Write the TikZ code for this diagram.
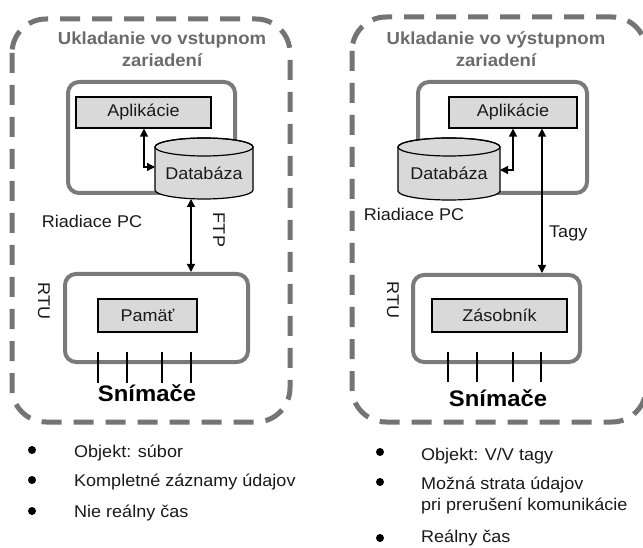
\documentclass[tikz,border=0pt]{standalone}
\usepackage{fontspec}
\setmainfont{Liberation Sans}[FakeStretch=1.06]
\usetikzlibrary{arrows.meta}
\definecolor{dashgray}{HTML}{747474}
\definecolor{boxgray}{HTML}{7A7A7A}
\definecolor{titlegray}{HTML}{6B6B6B}
\definecolor{fillgray}{HTML}{D9D9D9}
\definecolor{txt}{HTML}{1A1A1A}
\newcommand\dbcyl[5]{%
  \pgfmathsetmacro\cx{(#1+#2)/2}%
  \pgfmathsetmacro\rx{(#2-#1)/2}%
  \path[cylbody] (#1,#3+9) -- (#1,#4-9) arc[start angle=180,end angle=360,x radius=\rx pt,y radius=9pt]
     -- (#2,#3+9) arc[start angle=0,end angle=180,x radius=\rx pt,y radius=9pt] -- cycle;
  \draw[cylline] (\cx,#3+9) ellipse[x radius=\rx pt,y radius=9pt];
  \pgfmathsetmacro\cy{(#3+9+#4)/2}%
  \pgfmathsetmacro\hh{#4-#3-9}%
  \node[dbtext, minimum width=2*\rx pt, minimum height=\hh pt] (#5) at (\cx,\cy) {Databáza};
}
\begin{document}
\begin{tikzpicture}[x=1pt,y=-1pt,
  outerbox/.style={draw=dashgray, line width=5pt, dash pattern=on 20pt off 12pt, rounded corners=34pt},
  panel/.style={draw=boxgray, line width=4pt, rounded corners=11pt, fill=white, inner sep=0pt},
  membox/.style={draw=black, line width=1.2pt, fill=fillgray, inner sep=0pt, text=txt, font=\fontsize{17}{20}\selectfont},
  cylbody/.style={draw=black, line width=1.2pt, fill=fillgray},
  cylline/.style={draw=black, line width=1.2pt},
  dbtext/.style={inner sep=0pt, outer sep=0pt, text=txt, font=\fontsize{17}{20}\selectfont},
  title/.style={text=titlegray, font=\fontsize{17.5}{21}\selectfont\bfseries, inner sep=0pt},
  lbl/.style={text=txt, font=\fontsize{17}{20}\selectfont, inner sep=0pt},
  sens/.style={text=black, font=\fontsize{22.5}{26}\selectfont\bfseries, inner sep=0pt},
  conn/.style={draw=black, line width=1.3pt, {Triangle[length=8pt,width=8pt]}-{Triangle[length=8pt,width=8pt]}},
  wire/.style={draw=black, line width=1.1pt},
  bul/.style={circle, fill=black, inner sep=0pt, minimum size=8pt},
  item/.style={text=txt, font=\fontsize{17}{20}\selectfont, inner sep=0pt, anchor=base west, align=left}
]
\useasboundingbox (0,0) rectangle (643,548);
\fill[white] (0,0) rectangle (643,548);
\clip (0,0) rectangle (643,548);

% outer dashed frames
\draw[outerbox] (12,19) rectangle (290,422);
\draw[outerbox] (352,17) rectangle (646,422);

% ---------------- left part ----------------
\node[title, anchor=base] (tL1) at (162,45) {Ukladanie vo vstupnom};
\node[title, anchor=base] (tL2) at (162,67) {zariadení};
\node[panel, minimum width=167pt, minimum height=111pt] (pcL) at (151.5,137.5) {};
\node[membox, minimum width=135pt, minimum height=31pt] (appL) at (143.5,112.5) {Aplikácie};
\dbcyl{155}{253}{138}{199}{dbL}
\coordinate (jL) at (144,167);
\draw[conn] (jL |- appL.south) |- (dbL.west |- jL);
\node[lbl] (pcLl) at (92,221) {Riadiace PC};
\node[panel, minimum width=183pt, minimum height=88pt] (rtuL) at (156.5,318) {};
\node[membox, minimum width=99pt, minimum height=33pt] (memL) at (147.5,315.5) {Pamäť};
\coordinate (fL) at (191,0);
\draw[conn] (fL |- dbL.south) -- (fL |- rtuL.north);
\node[lbl, rotate=-90] (ftp) at (219,230) {FTP};
\node[lbl, rotate=-90] (rtuLl) at (44,301) {RTU};
\foreach \sx in {98,127,162,191} \draw[wire] (\sx,352) -- (\sx,383);
\node[sens] (snL) at (147,393) {Snímače};

% ---------------- right part ----------------
\node[title, anchor=base] (tR1) at (496,45) {Ukladanie vo výstupnom};
\node[title, anchor=base] (tR2) at (496,67) {zariadení};
\node[panel, minimum width=169pt, minimum height=111pt] (pcR) at (502.5,137.5) {};
\node[membox, minimum width=128pt, minimum height=31pt] (appR) at (513,112.5) {Aplikácie};
\dbcyl{398}{500}{138}{200}{dbR}
\coordinate (jR) at (513,170);
\draw[conn] (jR |- appR.south) |- (dbR.east |- jR);
\node[lbl] (pcRl) at (414,214) {Riadiace PC};
\node[panel, minimum width=167pt, minimum height=87pt] (rtuR) at (496.5,318.5) {};
\node[membox, minimum width=135pt, minimum height=33pt] (memR) at (499.5,315.5) {Zásobník};
\coordinate (fR) at (542,0);
\draw[conn] (fR |- appR.south) -- (fR |- rtuR.north);
\node[lbl, anchor=west] (tagy) at (549,233) {Tagy};
\node[lbl, rotate=-90] (rtuRl) at (393,300) {RTU};
\foreach \sx in {448,477,513,541} \draw[wire] (\sx,352) -- (\sx,382);
\node[sens] (snR) at (498,398) {Snímače};

% ---------------- bullet lists ----------------
\node[bul] (bL1) at (32,450) {};
\node[item] (iL1) at (74,457) {Objekt: súbor};
\node[bul] (bL2) at (32,480) {};
\node[item] (iL2) at (74,486) {Kompletné záznamy údajov};
\node[bul] (bL3) at (32,511) {};
\node[item] (iL3) at (74,517) {Nie reálny čas};

\node[bul] (bR1) at (380,452) {};
\node[item] (iR1) at (421,460) {Objekt: V/V tagy};
\node[bul] (bR2) at (380,482) {};
\node[item] (iR2) at (421,489) {Možná strata údajov};
\node[item] (iR2b) at (421,510) {pri prerušení komunikácie};
\node[bul] (bR3) at (380,538) {};
\node[item] (iR3) at (421,542) {Reálny čas};
\end{tikzpicture}
\end{document}
